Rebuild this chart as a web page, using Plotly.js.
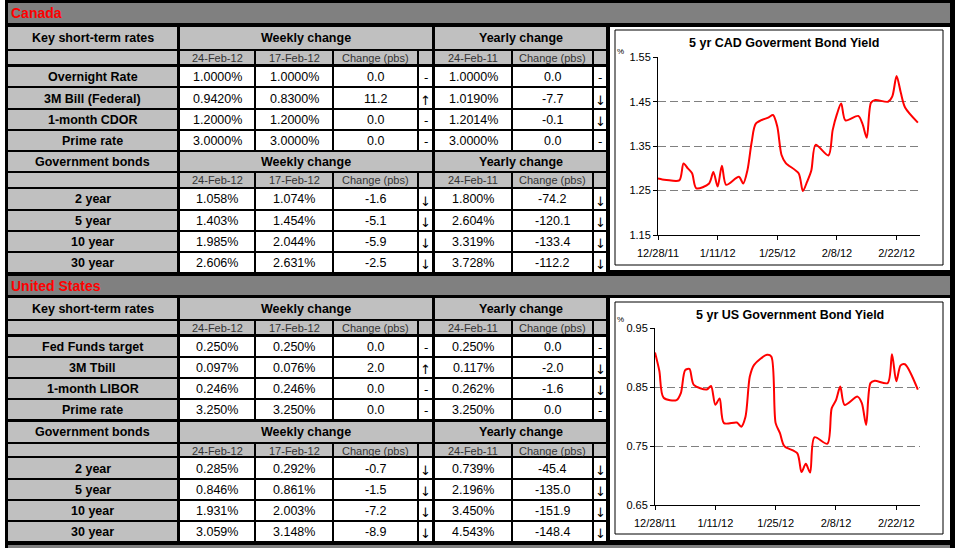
<!DOCTYPE html>
<html><head><meta charset="utf-8">
<script src="https://cdn.plot.ly/plotly-3.0.1.min.js"></script>
<style>html,body{margin:0;padding:0;background:#fff;}#chart{width:959px;height:548px;}</style>
</head><body><div id="chart"></div>
<script>
// ---------------- DATA ----------------
const dates = ['2011-12-28','2011-12-29','2011-12-30','2012-01-02','2012-01-03','2012-01-04','2012-01-05','2012-01-06',
  '2012-01-09','2012-01-10','2012-01-11','2012-01-12','2012-01-13','2012-01-16','2012-01-17','2012-01-18','2012-01-19','2012-01-20',
  '2012-01-23','2012-01-24','2012-01-25','2012-01-26','2012-01-27','2012-01-30','2012-01-31','2012-02-01','2012-02-02','2012-02-03',
  '2012-02-06','2012-02-07','2012-02-08','2012-02-09','2012-02-10','2012-02-13','2012-02-14','2012-02-15','2012-02-16','2012-02-17',
  '2012-02-20','2012-02-21','2012-02-22','2012-02-23','2012-02-24','2012-02-27'];
const cadYield = [1.277,1.275,1.274,1.273,1.311,1.300,1.289,1.255,
  1.266,1.292,1.259,1.306,1.263,1.281,1.266,1.296,1.360,1.401,
  1.415,1.420,1.394,1.330,1.312,1.289,1.249,1.270,1.296,1.353,
  1.329,1.386,1.422,1.446,1.408,1.418,1.400,1.369,1.448,1.454,
  1.450,1.462,1.508,1.470,1.437,1.403];
const usYield = [0.909,0.878,0.832,0.828,0.840,0.879,0.881,0.854,
  0.846,0.852,0.820,0.831,0.789,0.790,0.783,0.800,0.868,0.888,
  0.905,0.902,0.789,0.772,0.750,0.738,0.706,0.720,0.705,0.765,
  0.754,0.814,0.828,0.851,0.820,0.834,0.823,0.786,0.857,0.861,
  0.857,0.906,0.860,0.887,0.889,0.846];
const tickDates = ['2011-12-28','2012-01-11','2012-01-25','2012-02-08','2012-02-22'];
const tickLabels = ['12/28/11','1/11/12','1/25/12','2/8/12','2/22/12'];
const cadTicks = [1.15,1.25,1.35,1.45,1.55];
const usTicks = [0.65,0.75,0.85,0.95];
const cadTitle = '5 yr CAD Goverment Bond Yield';
const usTitle = '5 yr US Government Bond Yield';

const sectionNames = ['Canada','United States'];
const groupTitles = ['Key short-term rates','Government bonds'];
const spanTitles = ['Weekly change','Yearly change'];
const dateHeaders = ['24-Feb-12','17-Feb-12','Change (pbs)','24-Feb-11','Change (pbs)'];

const canShortLabels = ['Overnight Rate','3M Bill (Federal)','1-month CDOR','Prime rate'];
const canShortNow = [1.0000,0.9420,1.2000,3.0000];
const canShortWeek = [1.0000,0.8300,1.2000,3.0000];
const canShortWChg = [0.0,11.2,0.0,0.0];
const canShortYear = [1.0000,1.0190,1.2014,3.0000];
const canShortYChg = [0.0,-7.7,-0.1,0.0];

const bondLabels = ['2 year','5 year','10 year','30 year'];
const canBondNow = [1.058,1.403,1.985,2.606];
const canBondWeek = [1.074,1.454,2.044,2.631];
const canBondWChg = [-1.6,-5.1,-5.9,-2.5];
const canBondYear = [1.800,2.604,3.319,3.728];
const canBondYChg = [-74.2,-120.1,-133.4,-112.2];

const usShortLabels = ['Fed Funds target','3M Tbill','1-month LIBOR','Prime rate'];
const usShortNow = [0.250,0.097,0.246,3.250];
const usShortWeek = [0.250,0.076,0.246,3.250];
const usShortWChg = [0.0,2.0,0.0,0.0];
const usShortYear = [0.250,0.117,0.262,3.250];
const usShortYChg = [0.0,-2.0,-1.6,0.0];

const usBondNow = [0.285,0.846,1.931,3.059];
const usBondWeek = [0.292,0.861,2.003,3.148];
const usBondWChg = [-0.7,-1.5,-7.2,-8.9];
const usBondYear = [0.739,2.196,3.450,4.543];
const usBondYChg = [-45.4,-135.0,-151.9,-148.4];

// ---------------- LAYOUT HELPERS ----------------
const W = 959, H = 548;
const FONT = 'Liberation Sans, Arial, sans-serif';
const X = p => p / W, Y = p => 1 - p / H;
const LIGHT = '#c0c0c0', DARK = '#808080';
const shapes = [], ann = [];
function rect(x0, x1, y0, y1, fill, line) {
  shapes.push({type:'rect', xref:'paper', yref:'paper', layer:'below',
    x0:X(x0), x1:X(x1), y0:Y(y1), y1:Y(y0),
    fillcolor: fill || 'rgba(0,0,0,0)',
    line: line ? {color:line, width:1} : {width:0}});
}
function txt(x, y, text, size, opts) {
  opts = opts || {};
  ann.push({xref:'paper', yref:'paper', x:X(x), y:Y(y), text:text, showarrow:false,
    xanchor: opts.xa || 'center', yanchor:'middle',
    font:{family: opts.family || FONT, size:size, color: opts.color || '#000'}});
}
const COL = {label:[8,177], c1:[180,254], c2:[256,332], c3:[334,417], c4:[419,432], c5:[435,511], c6:[513,592], c7:[594,606]};
const cx = c => (COL[c][0] + COL[c][1]) / 2;
const pct = (v, d) => v.toFixed(d) + '%';
const chg = v => (Math.abs(v) < 1e-9 ? 0 : v).toFixed(1);
const arrow = v => v > 0 ? '\u2191' : (v < 0 ? '\u2193' : '-');

const canRows = {hdr:[3,23], key:[27,49], sub:[51,64], d:[[67,86],[88,108],[110,129],[131,150]],
  gov:[152,171], sub2:[173,187], b:[[189,209],[211,230],[232,251],[253,272]]};
const usRows = {hdr:[276,295], key:[298,319], sub:[321,334], d:[[337,356],[358,377],[379,398],[400,419]],
  gov:[422,442], sub2:[444,456], b:[[458,478],[480,499],[501,520],[522,541]]};

// background frame
rect(5, 955, 0, 548, '#000');
rect(8, 950, 545, 548, DARK);

function groupHeader(r, title) {
  rect(COL.label[0], COL.label[1], r[0], r[1], LIGHT);
  rect(COL.c1[0], COL.c4[1], r[0], r[1], LIGHT);
  rect(COL.c5[0], COL.c7[1], r[0], r[1], LIGHT);
  const ym = (r[0] + r[1]) / 2;
  txt(cx('label'), ym, '<b>' + title + '</b>', 12.5);
  txt((COL.c1[0] + COL.c4[1]) / 2, ym, '<b>' + spanTitles[0] + '</b>', 12.5);
  txt((COL.c5[0] + COL.c7[1]) / 2, ym, '<b>' + spanTitles[1] + '</b>', 12.5);
}
function subHeader(r) {
  ['label','c1','c2','c3','c4','c5','c6','c7'].forEach(c => rect(COL[c][0], COL[c][1], r[0], r[1], LIGHT));
  const ym = (r[0] + r[1]) / 2 + 0.5;
  ['c1','c2','c3','c5','c6'].forEach((c, i) => txt(cx(c), ym, dateHeaders[i], 11, {color:'#333333'}));
}
function dataRows(rows, labels, now, week, wchg, year, ychg, dec) {
  rows.forEach((r, i) => {
    rect(COL.label[0], COL.label[1], r[0], r[1], LIGHT);
    ['c1','c2','c3','c4','c5','c6','c7'].forEach(c => rect(COL[c][0], COL[c][1], r[0], r[1], '#fff'));
    const ym = (r[0] + r[1]) / 2 + 0.5;
    txt(cx('label'), ym, '<b>' + labels[i] + '</b>', 12.5);
    txt(cx('c1'), ym, pct(now[i], dec), 12.5);
    txt(cx('c2'), ym, pct(week[i], dec), 12.5);
    txt(cx('c3'), ym, chg(wchg[i]), 12.5);
    txt(cx('c5'), ym, pct(year[i], dec), 12.5);
    txt(cx('c6'), ym, chg(ychg[i]), 12.5);
    const a1 = arrow(wchg[i]), a2 = arrow(ychg[i]);
    txt(cx('c4'), ym + (a1 === '-' ? 1 : 1.5), a1, a1 === '-' ? 12 : 13, {family:'DejaVu Sans, sans-serif'});
    txt(cx('c7'), ym + (a2 === '-' ? 1 : 1.5), a2, a2 === '-' ? 12 : 13, {family:'DejaVu Sans, sans-serif'});
  });
}
function section(R, name, sL, sN, sW, sWC, sY, sYC, sDec, bN, bW, bWC, bY, bYC) {
  rect(8, 950, R.hdr[0], R.hdr[1], DARK);
  txt(9, (R.hdr[0] + R.hdr[1]) / 2, '<b>' + name + '</b>', 14, {xa:'left', color:'#ff0000'});
  groupHeader(R.key, groupTitles[0]);
  subHeader(R.sub);
  dataRows(R.d, sL, sN, sW, sWC, sY, sYC, sDec);
  groupHeader(R.gov, groupTitles[1]);
  subHeader(R.sub2);
  dataRows(R.b, bondLabels, bN, bW, bWC, bY, bYC, 3);
}
section(canRows, sectionNames[0], canShortLabels, canShortNow, canShortWeek, canShortWChg, canShortYear, canShortYChg, 4,
  canBondNow, canBondWeek, canBondWChg, canBondYear, canBondYChg);
section(usRows, sectionNames[1], usShortLabels, usShortNow, usShortWeek, usShortWChg, usShortYear, usShortYChg, 3,
  usBondNow, usBondWeek, usBondWChg, usBondYear, usBondYChg);

// chart panels
rect(610, 950, 27, 270, '#fff');
rect(615, 943, 30, 265, null, '#000');
rect(610, 950, 298, 540, '#fff');
rect(615, 943, 302, 534, null, '#000');
txt(784, 43, '<b>' + cadTitle + '</b>', 12.5);
txt(790, 315, '<b>' + usTitle + '</b>', 12.5);
txt(620, 51, '%', 8);
txt(620, 319, '%', 8);

function xAx(d) {
  return {domain:[X(d[0]), X(d[1])], type:'date', range:['2011-12-28','2012-02-27 12:00'],
    tickmode:'array', tickvals:tickDates, ticktext:tickLabels, showgrid:false, zeroline:false,
    showline:true, linecolor:'#000', linewidth:1, ticks:'outside', ticklen:4, tickcolor:'#000',
    tickfont:{family:FONT, size:11, color:'#000'}, ticklabelstandoff:4, fixedrange:true};
}
function yAx(d, r, tv, anchor) {
  return {domain:[Y(d[1]), Y(d[0])], range:r, tickmode:'array', tickvals:tv, ticktext:tv.map(v => v.toFixed(2)),
    showgrid:true, gridcolor:'#808080', gridwidth:1, griddash:'8px,4px', zeroline:false,
    showline:true, linecolor:'#000', linewidth:1, ticks:'outside', ticklen:4, tickcolor:'#000',
    tickfont:{family:FONT, size:11, color:'#000'}, anchor:anchor, fixedrange:true};
}

const data = [
  {x:dates, y:cadYield, type:'scatter', mode:'lines', line:{color:'#ff0000', width:2, shape:'spline', smoothing:0.8},
   xaxis:'x', yaxis:'y', hoverinfo:'skip'},
  {x:dates, y:usYield, type:'scatter', mode:'lines', line:{color:'#ff0000', width:2, shape:'spline', smoothing:0.8},
   xaxis:'x2', yaxis:'y2', hoverinfo:'skip'}
];
const layout = {
  width:W, height:H, margin:{l:0, r:0, t:0, b:0}, paper_bgcolor:'#fff', plot_bgcolor:'rgba(0,0,0,0)',
  showlegend:false, font:{family:FONT},
  xaxis: Object.assign(xAx([658,920]), {anchor:'y'}),
  yaxis: yAx([57.3,235], [1.15,1.55], cadTicks, 'x'),
  xaxis2: Object.assign(xAx([655,920]), {anchor:'y2'}),
  yaxis2: yAx([328.3,505], [0.65,0.95], usTicks, 'x2'),
  shapes:shapes, annotations:ann
};
Plotly.newPlot('chart', data, layout, {staticPlot:true, displayModeBar:false});
</script></body></html>
